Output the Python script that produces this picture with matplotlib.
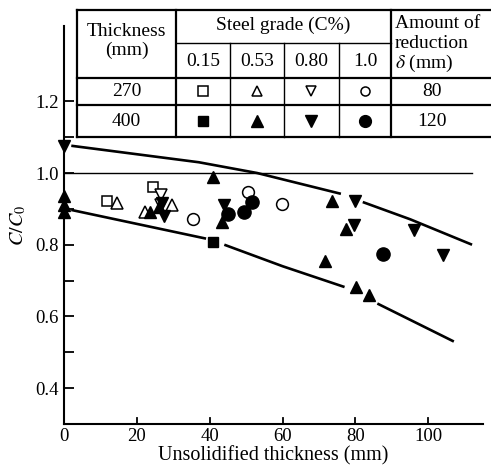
import numpy as np
import matplotlib
matplotlib.use("Agg")
import matplotlib.pyplot as plt

plt.rcParams['font.family'] = ['Liberation Serif', 'DejaVu Serif']
plt.rcParams['mathtext.fontset'] = 'stix'

# data (unsolidified thickness mm, C/C0)
open_sq_x = [11.7, 24.3]
open_sq_y = [0.923, 0.962]
open_tri_x = [14.5, 22.2, 29.6]
open_tri_y = [0.917, 0.890, 0.910]
open_vtri_x = [26.6, 26.6]
open_vtri_y = [0.940, 0.910]
open_circ_x = [35.3, 50.6, 59.8]
open_circ_y = [0.872, 0.946, 0.914]

fill_sq_x = [41.0]
fill_sq_y = [0.808]
fill_tri_x = [0, 0, 0, 23.5, 26.0, 41.0, 43.3, 71.7, 73.5, 77.5, 80.2, 83.6]
fill_tri_y = [0.935, 0.910, 0.890, 0.890, 0.905, 0.988, 0.863, 0.754, 0.923, 0.845, 0.683, 0.660]
fill_vtri_x = [0, 27.0, 27.5, 43.8, 79.5, 79.8, 96.0, 104.0]
fill_vtri_y = [1.076, 0.915, 0.880, 0.910, 0.855, 0.923, 0.840, 0.770]
fill_circ_x = [45.1, 49.3, 51.6, 87.5]
fill_circ_y = [0.886, 0.891, 0.919, 0.775]

# bounding curves (broken where they pass markers)
upper_segs = [([2, 37, 53, 76], [1.076, 1.03, 1.0, 0.942]),
              ([82, 95, 112], [0.919, 0.871, 0.80])]
lower_segs = [([2, 39], [0.897, 0.817]),
              ([44, 60, 77], [0.80, 0.74, 0.682]),
              ([86, 107], [0.636, 0.53])]

grades = ['0.15', '0.53', '0.80', '1.0']
thick = ['270', '400']
reduction = ['80', '120']
open_marks = ['s', '^', 'v', 'o']
fill_marks = ['s', '^', 'v', 'o']

fig = plt.figure(figsize=(4.91, 4.69), dpi=100)
ax = fig.add_axes([64/491, 45/469, 419/491, 398/469])

for xs, ys in upper_segs + lower_segs:
    ax.plot(xs, ys, color='black', lw=1.9, solid_capstyle='butt')
ax.plot([0, 112], [1.0, 1.0], color='black', lw=1.0)

kw_open = dict(ls='none', mfc='white', mec='black', mew=1.1, clip_on=False, zorder=3)
kw_fill = dict(ls='none', color='black', clip_on=False, zorder=4)
ax.plot(open_sq_x, open_sq_y, marker='s', ms=7, **kw_open)
ax.plot(open_tri_x, open_tri_y, marker='^', ms=8, **kw_open)
ax.plot(open_vtri_x, open_vtri_y, marker='v', ms=8, **kw_open)
ax.plot(open_circ_x, open_circ_y, marker='o', ms=8.5, **kw_open)
ax.plot(fill_sq_x, fill_sq_y, marker='s', ms=7, **kw_fill)
ax.plot(fill_tri_x, fill_tri_y, marker='^', ms=9, **kw_fill)
ax.plot(fill_vtri_x, fill_vtri_y, marker='v', ms=9, **kw_fill)
ax.plot(fill_circ_x, fill_circ_y, marker='o', ms=9.5, **kw_fill)

ax.set_xlim(0, 115)
ax.set_ylim(0.3, 1.41)
ax.set_xticks([0, 20, 40, 60, 80, 100])
ax.set_yticks([0.4, 0.6, 0.8, 1.0, 1.2])
ax.set_yticks(np.arange(0.5, 1.3, 0.2), minor=True)
ax.tick_params(direction='in', length=7, width=1.3, labelsize=13.5, pad=4)
ax.tick_params(which='minor', direction='in', length=7, width=1.3)
ax.tick_params(axis='x', length=0, pad=3)
for t in [20, 40, 60, 80, 100]:
    ax.plot([t, t], [0.3, 0.317], color='black', lw=1.3, clip_on=False)
ax.spines['top'].set_visible(False)
ax.spines['right'].set_visible(False)
ax.spines['left'].set_linewidth(1.5)
ax.spines['bottom'].set_linewidth(1.5)
ax.set_xlabel('Unsolidified thickness (mm)', fontsize=14.5, labelpad=1)
ax.set_ylabel(r'$C/C_0$', fontsize=14.5, labelpad=5)

# table overlay in pixel coordinates
tb = fig.add_axes([0, 0, 1, 1], zorder=10)
tb.set_xlim(0, 491)
tb.set_ylim(469, 0)
tb.axis('off')
tb.patch.set_alpha(0)
tb.add_patch(plt.Rectangle((77, 10), 414, 127, facecolor='white', edgecolor='none'))
lw_thick = 1.6
lw_thin = 1.0
for y in [10, 78, 105, 137]:
    tb.plot([77, 491], [y, y], color='black', lw=lw_thick)
tb.plot([176, 391], [43, 43], color='black', lw=lw_thin)
tb.plot([77, 77], [10, 137], color='black', lw=lw_thick)
tb.plot([176, 176], [10, 137], color='black', lw=lw_thick)
tb.plot([391, 391], [10, 137], color='black', lw=lw_thick)
for x in [230, 284, 339]:
    tb.plot([x, x], [43, 137], color='black', lw=lw_thin)

fs = 14
tb.text(126.5, 31, 'Thickness', ha='center', va='center', fontsize=fs)
tb.text(126.5, 50, '(mm)', ha='center', va='center', fontsize=fs)
tb.text(283.5, 25, 'Steel grade (C%)', ha='center', va='center', fontsize=fs)
tb.text(395, 24, 'Amount of', ha='left', va='center', fontsize=fs)
tb.text(395, 44, 'reduction', ha='left', va='center', fontsize=fs)
tb.text(395, 63, r'$\delta$ (mm)', ha='left', va='center', fontsize=fs)
col_cx = [203, 257, 311.5, 365]
for cx, g in zip(col_cx, grades):
    tb.text(cx, 62, g, ha='center', va='center', fontsize=fs)
row_cy = [91.5, 121]
for cy, t, r in zip(row_cy, thick, reduction):
    tb.text(126.5, cy, t, ha='center', va='center', fontsize=fs)
    tb.text(432, cy, r, ha='center', va='center', fontsize=fs)
for cx, m in zip(col_cx, open_marks):
    tb.plot([cx], [row_cy[0]], marker=m, ms=6.5, ls='none', mfc='white', mec='black', mew=1.1)
for cx, m in zip(col_cx, fill_marks):
    tb.plot([cx], [row_cy[1]], marker=m, ms=8.5 if m != 's' else 6.5, ls='none', color='black')

fig.savefig('out.png', dpi=100)
